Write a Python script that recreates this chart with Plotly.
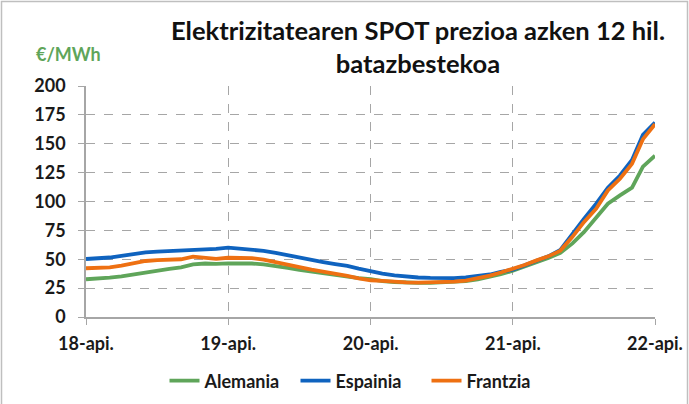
import plotly.graph_objects as go
import pandas as pd

months = pd.date_range("2018-04-01", "2022-04-01", freq="MS")

alemania = [32.7, 33.2, 34.0, 35.2, 37.0, 38.8, 40.3, 41.7, 43.0, 45.5, 46.3, 46.0,
            46.5, 46.5, 46.3, 45.5, 44.2, 42.5, 40.7, 39.2, 37.2, 35.8, 34.7, 33.6,
            32.7, 31.0, 30.3, 29.8, 29.5, 29.6, 29.8, 30.2, 31.0, 32.5, 34.5, 37.0,
            40.0, 43.5, 47.0, 51.0, 55.5, 63.7, 73.7, 86.6, 98.1, 105.3, 112.0, 130.2, 139.7]
espainia = [50.2, 50.7, 51.5, 53.0, 54.7, 56.0, 56.6, 57.0, 57.5, 58.4, 58.6, 59.0,
            60.0, 59.3, 58.4, 57.3, 55.5, 53.3, 51.5, 49.8, 47.6, 45.8, 44.2, 41.8,
            39.3, 37.6, 36.0, 35.0, 34.2, 33.8, 33.6, 33.6, 34.3, 35.5, 36.8, 39.0,
            41.0, 44.7, 48.5, 52.5, 58.0, 72.0, 85.2, 98.1, 111.9, 122.5, 136.0, 157.8, 168.4]
frantzia = [42.2, 42.2, 43.0, 44.5, 46.5, 48.5, 49.2, 49.6, 50.0, 52.2, 51.5, 50.3,
            51.3, 51.5, 51.0, 49.6, 47.7, 45.5, 43.2, 41.0, 39.4, 37.6, 35.6, 33.5,
            31.8, 31.2, 30.4, 29.9, 29.8, 30.0, 30.2, 30.6, 31.5, 33.5, 35.8, 38.5,
            41.5, 45.0, 49.0, 52.5, 57.5, 69.4, 82.3, 93.8, 109.6, 119.7, 132.6, 154.0, 167.0]

tick_dates = ["2018-04-01", "2019-04-01", "2020-04-01", "2021-04-01", "2022-04-01"]
tick_labels = ["18-api.", "19-api.", "20-api.", "21-api.", "22-api."]
y_ticks = [0, 25, 50, 75, 100, 125, 150, 175, 200]
title_text = "Elektrizitatearen SPOT prezioa azken 12 hil.<br>batazbestekoa"
unit_label = "€/MWh"

FONT = "Lato"
fig = go.Figure()
series = [("Alemania", alemania, "#5FA55A"),
          ("Espainia", espainia, "#0F63BF"),
          ("Frantzia", frantzia, "#EE7012")]
for name, vals, col in series:
    fig.add_trace(go.Scatter(x=months, y=vals, name=name, mode="lines",
                             line=dict(color=col, width=3.8)))

W, H = 689, 404
L, R, T, B = 86, 34, 86, 87
pw, ph = W - L - R, H - T - B

def px(p):
    return (p - L) / pw

def py(p):
    return (H - B - p) / ph

fig.update_layout(
    width=W, height=H,
    margin=dict(l=L, r=R, t=T, b=B, autoexpand=False),
    paper_bgcolor="white", plot_bgcolor="white",
    font=dict(family=FONT, size=18, color="#1a1a1a", weight=700),
    xaxis=dict(range=["2018-04-01", "2022-04-01"], tickvals=tick_dates, ticktext=tick_labels,
               showgrid=True, gridcolor="#a6a6a6", griddash="dash", gridwidth=1,
               showline=True, linecolor="#a6a6a6", linewidth=1.5, automargin=False,
               ticks="outside", ticklen=6, tickcolor="#a6a6a6", ticklabelstandoff=4,
               tickfont=dict(size=18, weight=700), zeroline=False),
    yaxis=dict(range=[0, 200], tickvals=y_ticks,
               showgrid=True, gridcolor="#a6a6a6", griddash="dash", gridwidth=1,
               showline=True, linecolor="#a6a6a6", linewidth=1.5, automargin=False,
               ticks="outside", ticklen=6, tickcolor="#a6a6a6", ticklabelstandoff=9,
               tickfont=dict(size=18, weight=700), zeroline=False),
    legend=dict(orientation="h", xref="container", yref="container",
                x=361 / W, xanchor="center", y=1 - 381 / H, yanchor="middle",
                font=dict(size=18, weight=700), traceorder="normal",
                entrywidth=86, entrywidthmode="pixels",
                bgcolor="rgba(0,0,0,0)"),
    showlegend=True,
)

fig.add_annotation(text=title_text, xref="paper", yref="paper", x=px(418), y=py(46),
                   xanchor="center", yanchor="middle", showarrow=False,
                   font=dict(family=FONT, size=25.5, color="#111111", weight=700))

fig.add_annotation(text=unit_label, xref="paper", yref="paper", x=px(34), y=py(54),
                   xanchor="left", yanchor="middle", showarrow=False,
                   font=dict(family=FONT, size=18, color="#5FA55A", weight=700))

fig.add_shape(type="rect", xref="paper", yref="paper",
              x0=px(1.5), x1=px(W - 1.5), y0=py(H + 6), y1=py(1.5),
              line=dict(color="#bfbfbf", width=1.5), layer="below")

fig.write_html("out.html", config={"displayModeBar": False},
               post_script="document.body.style.margin='0';document.body.style.overflow='hidden';")
